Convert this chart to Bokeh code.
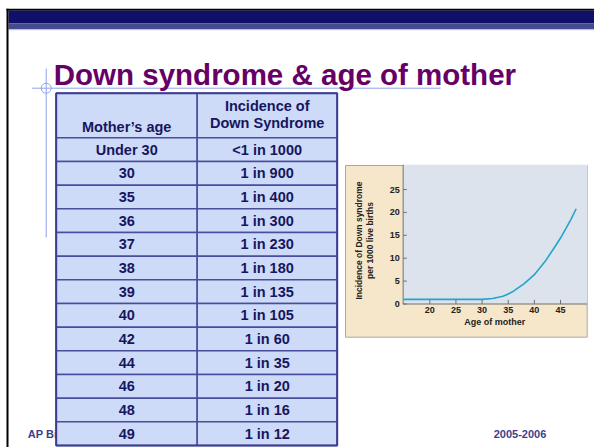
import numpy as np
from bokeh.plotting import figure
from bokeh.models import Range1d, ColumnDataSource
from bokeh.core.properties import value
from bokeh.embed import file_html
from bokeh.resources import INLINE

# ---------------- data ----------------
title_text = "Down syndrome & age of mother"
header_age = "Mother’s age"
header_incidence = ["Incidence of", "Down Syndrome"]
mother_age = ["Under 30", "30", "35", "36", "37", "38", "39", "40",
              "42", "44", "46", "48", "49"]
incidence = ["<1 in 1000", "1 in 900", "1 in 400", "1 in 300", "1 in 230",
             "1 in 180", "1 in 135", "1 in 105", "1 in 60", "1 in 35",
             "1 in 20", "1 in 16", "1 in 12"]

curve_age = [15, 20, 25, 30, 32, 34, 35, 36, 38, 40, 42, 44, 45, 46, 47, 48]
curve_rate = [1.0, 1.0, 1.0, 1.0, 1.2, 1.7, 2.2, 2.8, 4.4, 6.4, 9.2, 12.6,
              14.4, 16.4, 18.5, 20.8]
x_ticks = [20, 25, 30, 35, 40, 45]
y_ticks = [0, 5, 10, 15, 20, 25]
x_label = "Age of mother"
y_label = ["Incidence of Down syndrome", "per 1000 live births"]
footer_left = "AP Biology"
footer_right = "2005-2006"

FONT = value("Liberation Sans")

# ---------------- figure (page-pixel coordinates) ----------------
W, H = 594, 447
p = figure(width=W, height=H, x_range=Range1d(0, W), y_range=Range1d(H, 0),
           output_backend="svg", toolbar_location=None, min_border=0,
           x_axis_location=None, y_axis_location=None, title=None)
p.grid.visible = False
p.outline_line_color = None
p.background_fill_color = "white"
p.border_fill_color = "white"

# inset chart scales (extra ranges spanning the whole frame)
PX_X, AGE_REF, AGE_PX = 5.228, 20.0, 429.3
PX_Y, ZERO_PX = 4.58, 303.5
p.extra_x_ranges = {"age": Range1d(AGE_REF - AGE_PX / PX_X,
                                   AGE_REF + (W - AGE_PX) / PX_X)}
p.extra_y_ranges = {"rate": Range1d((ZERO_PX - H) / PX_Y, ZERO_PX / PX_Y)}

# ---------------- slide decoration ----------------
p.quad(left=[6], right=[W], top=[8.3], bottom=[10.2], fill_color="black", line_color=None)
p.quad(left=[8], right=[W], top=[10.2], bottom=[22.7], fill_color="#10106A", line_color=None)
p.quad(left=[8], right=[W], top=[22.7], bottom=[28.8], fill_color="#434B8E", line_color=None)
p.segment(x0=[8], y0=[29.2], x1=[W], y1=[29.2], line_color="#B8BCD8", line_width=1)
p.quad(left=[6], right=[8], top=[8.3], bottom=[H], fill_color="black", line_color=None)

# footer
p.text(x=[27.3], y=[433.5], text=[footer_left], text_font=FONT, text_font_style="bold",
       text_font_size="11px", text_color="#3C3F8E", text_baseline="middle", text_align="left")
p.text(x=[519.5], y=[433.5], text=[footer_right], text_font=FONT, text_font_style="bold",
       text_font_size="11px", text_color="#3C3F8E", text_baseline="middle", text_align="center")

# placeholder guides
guide = "#8FA3EA"
p.segment(x0=[45.7], y0=[68], x1=[45.7], y1=[237], line_color=guide, line_width=1)
p.segment(x0=[31.7], y0=[87.7], x1=[440], y1=[87.7], line_color=guide, line_width=1)
p.scatter(x=[45.7], y=[87.7], size=10, marker="circle", fill_color=None,
          line_color=guide, line_width=1)

# title
p.text(x=[53.3], y=[74.3], text=[title_text], text_font=FONT, text_font_style="bold",
       text_font_size="29.5px", text_color="#660066", text_baseline="middle",
       text_align="left")

# ---------------- table ----------------
T_LEFT, T_MID, T_RIGHT = 55.7, 196.7, 336.7
T_TOP, H_BOTTOM, ROW_H = 92.7, 137.3, 23.67
n = len(mother_age)
idx = np.arange(n)
tops = H_BOTTOM + ROW_H * idx
bots = tops + ROW_H
cells = ColumnDataSource(dict(
    left=np.concatenate([[T_LEFT, T_MID], np.full(n, T_LEFT), np.full(n, T_MID)]),
    right=np.concatenate([[T_MID, T_RIGHT], np.full(n, T_MID), np.full(n, T_RIGHT)]),
    top=np.concatenate([[T_TOP, T_TOP], tops, tops]),
    bottom=np.concatenate([[H_BOTTOM, H_BOTTOM], bots, bots]),
))
p.quad(left="left", right="right", top="top", bottom="bottom", source=cells,
       fill_color="#CDDAF8", line_color="#4A4C9C", line_width=1.5)
p.quad(left=[T_LEFT], right=[T_RIGHT], top=[T_TOP], bottom=[bots[-1]],
       fill_color=None, line_color="#3C3E90", line_width=2)

tcol = "#16165E"
c1 = (T_LEFT + T_MID) / 2
c2 = (T_MID + T_RIGHT) / 2
p.text(x=[c1], y=[126], text=[header_age], text_font=FONT, text_font_style="bold",
       text_font_size="14.5px", text_color=tcol, text_baseline="middle", text_align="center")
p.text(x=[c2, c2], y=[105, 122.7], text=header_incidence, text_font=FONT,
       text_font_style="bold", text_font_size="14.5px", text_color=tcol,
       text_baseline="middle", text_align="center")
rows = ColumnDataSource(dict(y=tops + ROW_H / 2, age=mother_age, inc=incidence,
                             x1=np.full(n, c1), x2=np.full(n, c2)))
p.text(x="x1", y="y", text="age", source=rows, text_font=FONT, text_font_style="bold",
       text_font_size="14.5px", text_color=tcol, text_baseline="middle", text_align="center")
p.text(x="x2", y="y", text="inc", source=rows, text_font=FONT, text_font_style="bold",
       text_font_size="14.5px", text_color=tcol, text_baseline="middle", text_align="center")

# ---------------- inset chart ----------------
X_MIN, X_MAX, Y_MAX = 14.9, 50.1, 30.4
p.quad(left=[345], right=[586.7], top=[165], bottom=[336.7], fill_color="#F6E7CA",
       line_color="#A8A8A8", line_width=1)
p.quad(left=[X_MIN], right=[X_MAX], top=[Y_MAX], bottom=[0], fill_color="#DCE3EC",
       line_color=None, x_range_name="age", y_range_name="rate")
p.line(x=curve_age, y=curve_rate, line_color="#23A4CA", line_width=1.6,
       x_range_name="age", y_range_name="rate")
axis_col = "#707070"
p.segment(x0=[X_MIN, X_MIN], y0=[0, 0], x1=[X_MAX, X_MIN], y1=[0, Y_MAX],
          line_color=axis_col, line_width=1, x_range_name="age", y_range_name="rate")
p.segment(x0=x_ticks, y0=[0] * len(x_ticks), x1=x_ticks, y1=[0.9] * len(x_ticks),
          line_color=axis_col, line_width=1, x_range_name="age", y_range_name="rate")
p.segment(x0=[X_MIN] * len(y_ticks), y0=y_ticks, x1=[X_MIN + 0.7] * len(y_ticks),
          y1=y_ticks, line_color=axis_col, line_width=1, x_range_name="age",
          y_range_name="rate")
p.text(x=x_ticks, y=[0] * len(x_ticks), text=[str(t) for t in x_ticks], y_offset=6,
       text_font=FONT, text_font_style="bold", text_font_size="9px", text_color="#222222",
       text_baseline="middle", text_align="center", x_range_name="age",
       y_range_name="rate")
p.text(x=[X_MIN] * len(y_ticks), y=y_ticks, text=[str(t) for t in y_ticks], x_offset=-3.5,
       text_font=FONT, text_font_style="bold", text_font_size="9px", text_color="#222222",
       text_baseline="middle", text_align="right", x_range_name="age",
       y_range_name="rate")
p.text(x=[494.3], y=[321], text=[x_label], text_font=FONT, text_font_style="bold",
       text_font_size="9px", text_color="#222222", text_baseline="middle",
       text_align="center")
p.text(x=[358.3, 369.3], y=[240, 240], text=y_label, angle=np.pi / 2, text_font=FONT,
       text_font_style="bold", text_font_size="8.5px", text_color="#222222",
       text_baseline="middle", text_align="center")

open("out.html", "w").write(file_html(p, INLINE))
